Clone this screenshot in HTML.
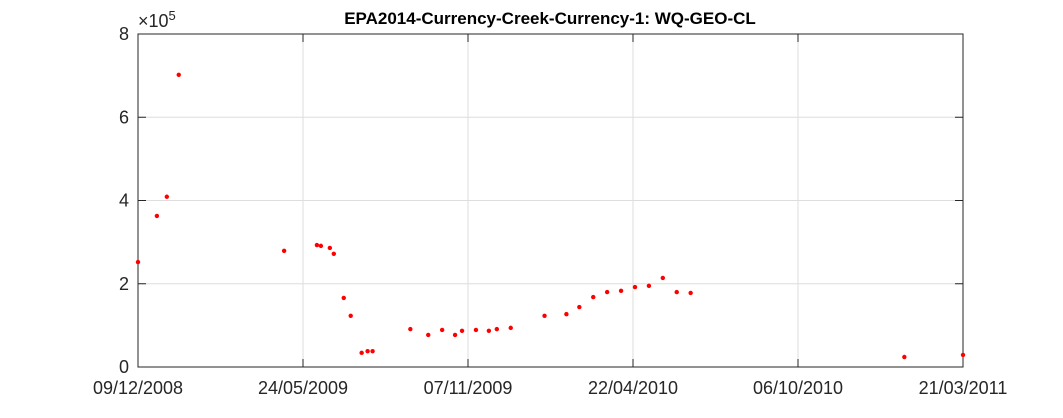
<!DOCTYPE html>
<html><head><meta charset="utf-8"><style>
body{margin:0;background:#fff;font-family:"Liberation Sans",Arial,sans-serif}
svg text{font-family:"Liberation Sans",Arial,sans-serif}
</style></head><body>
<svg id="chart" width="1063" height="413" xmlns="http://www.w3.org/2000/svg">
<rect x="0" y="0" width="1063" height="413" fill="#fff"/>
<g id="grid"></g><g id="axes"></g><g id="marks"></g>
<text x="550" y="24" text-anchor="middle" font-size="17" font-weight="bold" fill="#000">EPA2014-Currency-Creek-Currency-1: WQ-GEO-CL</text>
<text x="138" y="27" font-size="18" fill="#262626">×10<tspan dy="-7" font-size="13">5</tspan></text>
</svg>
<script>
const tickLabels=["09/12/2008","24/05/2009","07/11/2009","22/04/2010","06/10/2010","21/03/2011"];
const tickDays=[0,166,332,498,664,830];
const yTicks=[0,2,4,6,8];
const dayOffsets=[0,19,29,41,147,180,184,193,197,207,214,225,231,236,274,292,306,319,326,340,353,361,375,409,431,444,458,472,486,500,514,528,542,556,771,830];
const values=[2.52,3.63,4.09,7.02,2.79,2.93,2.91,2.86,2.72,1.66,1.23,0.34,0.38,0.38,0.91,0.77,0.89,0.77,0.87,0.89,0.87,0.91,0.94,1.23,1.27,1.44,1.68,1.80,1.83,1.92,1.95,2.14,1.80,1.78,0.24,0.29];
const X0=138,X1=963,Y0=367,Y1=34;
const xs=d=>X0+(d/830)*(X1-X0);
const ys=v=>Y0-(v/8)*(Y0-Y1);
const NS="http://www.w3.org/2000/svg";
function mk(t,a,p){const e=document.createElementNS(NS,t);for(const k in a)e.setAttribute(k,a[k]);p.appendChild(e);return e;}
const grid=document.getElementById('grid'),axes=document.getElementById('axes'),marks=document.getElementById('marks');
tickDays.forEach((d,i)=>{const x=xs(d);
 const g=mk('line',{x1:x,x2:x,y1:Y1,y2:Y0,stroke:'#dedede','stroke-width':1},grid);
 
 
 mk('line',{x1:x,x2:x,y1:Y0,y2:Y0-8,stroke:'#262626'},axes);
 mk('line',{x1:x,x2:x,y1:Y1,y2:Y1+8,stroke:'#262626'},axes);
 const t=mk('text',{x:x,y:394,'text-anchor':'middle','font-size':18,fill:'#262626'},axes);
 t.textContent=tickLabels[i];
 
 
});
yTicks.forEach(v=>{const y=ys(v);
 const g=mk('line',{x1:X0,x2:X1,y1:y,y2:y,stroke:'#dedede','stroke-width':1},grid);
 
 
 mk('line',{x1:X0,x2:X0+8,y1:y,y2:y,stroke:'#262626'},axes);
 mk('line',{x1:X1,x2:X1-8,y1:y,y2:y,stroke:'#262626'},axes);
 const t=mk('text',{x:X0-9,y:y+6,'text-anchor':'end','font-size':18,fill:'#262626'},axes);
 t.textContent=v;
 
 
});
const box=mk('rect',{x:X0,y:Y1,width:X1-X0,height:Y0-Y1,fill:'none',stroke:'#262626','stroke-width':1},axes);


dayOffsets.forEach((d,i)=>{
 const c=mk('circle',{cx:xs(d),cy:ys(values[i]),r:2.2,fill:'#ff0000'},marks);
 
 
});
</script>
</body></html>
